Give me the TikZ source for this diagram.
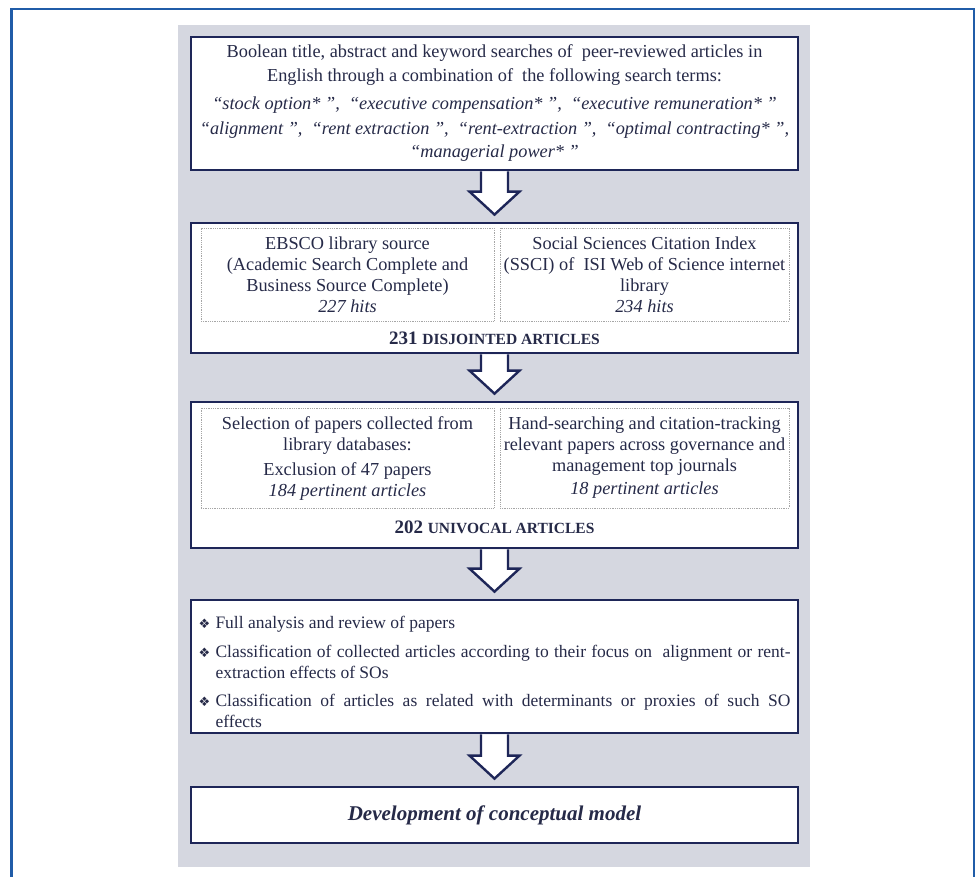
\documentclass[tikz,border=0pt]{standalone}
\usepackage{fontspec}
\setmainfont{Liberation Serif}
\newfontfamily\dingbat{DejaVu Sans}
\usetikzlibrary{calc}

\definecolor{navy}{RGB}{30,38,88}
\definecolor{frameblue}{RGB}{32,92,168}
\definecolor{panelgray}{RGB}{213,215,224}
\definecolor{ink}{RGB}{38,42,72}

\begin{document}
\begin{tikzpicture}[x=1pt, y=-1pt, font=\fontsize{18.3}{21}\selectfont,
        mainbox/.style={draw=navy, line width=2.8pt, fill=white, text=ink, minimum width=607pt, inner sep=0pt, align=center},
        subbox/.style={draw=gray!70, densely dotted, line width=0.8pt, fill=white, text=ink, inner sep=0pt, align=center},
        bigarrow/.style={draw=navy, line width=2.4pt, fill=white, line join=miter},
        tally/.style={text=ink, font=\fontsize{19}{21}\selectfont\bfseries}]

        \useasboundingbox (0,0) rectangle (976,876);

        % frame and panel
        \draw[frameblue, line width=2.5pt] (974,900) -- (974,9) -- (11.5,9) -- (11.5,900);
        \fill[panelgray] (178,25) rectangle (810,867);

        % search terms
        \node[mainbox, minimum height=133pt, font=\fontsize{18.3}{24}\selectfont] (search) at (494.5,103.5) {Boolean title, abstract and keyword searches of~ peer-reviewed articles in\\
            English through a combination of~ the following search terms:\\[4pt]
            \textit{“stock option* ”,~ “executive compensation* ”,~ “executive remuneration* ”}\\
            \textit{“alignment ”,~ “rent extraction ”,~ “rent-extraction ”,~ “optimal contracting* ”,}\\
            \textit{“managerial power* ”}};

        % sources
        \node[mainbox, minimum height=130pt] (sources) at (494.5,288) {};
        \node[subbox, minimum width=293pt, minimum height=93pt] (ebsco) at (347.5,274.5) {EBSCO library source\\(Academic Search Complete and\\Business Source Complete)\\\textit{227 hits}};
        \node[subbox, minimum width=289pt, minimum height=93pt] (ssci) at (644.5,274.5) {Social Sciences Citation Index\\(SSCI) of~ ISI Web of Science internet\\library\\\textit{234 hits}};
        \node[tally] (disjoint) at (494.5,338) {231 {\fontsize{15.5}{17}\selectfont DISJOINTED ARTICLES}};

        % selection
        \node[mainbox, minimum height=146pt] (selection) at (494.5,475) {};
        \node[subbox, minimum width=293pt, minimum height=100pt] (library) at (347.5,458) {Selection of papers collected from\\library databases:\\[4pt]Exclusion of 47 papers\\\textit{184 pertinent articles}};
        \node[subbox, minimum width=289pt, minimum height=100pt] (hand) at (644.5,458) {Hand-searching and citation-tracking\\relevant papers across governance and\\management top journals\\[2pt]\textit{18 pertinent articles}};
        \node[tally] (univocal) at (494.5,527) {202 {\fontsize{15.5}{17}\selectfont UNIVOCAL ARTICLES}};

        % analysis
        \node[mainbox, minimum height=133pt, text width=592pt, inner xsep=7.5pt, align=justify, font=\fontsize{17.5}{21}\selectfont] (analysis) at (494.5,666.5) {\setlength{\parskip}{7.5pt}%
            \hangindent=17pt\hangafter=1\noindent\rule{0pt}{24pt}\makebox[17pt][l]{\dingbat\fontsize{13}{13}\selectfont ❖}Full analysis and review of papers\par
            \hangindent=17pt\hangafter=1\noindent\makebox[17pt][l]{\dingbat\fontsize{13}{13}\selectfont ❖}Classification of collected articles according to their focus on~ alignment or rent-\linebreak extraction effects of SOs\par
            \hangindent=17pt\hangafter=1\noindent\makebox[17pt][l]{\dingbat\fontsize{13}{13}\selectfont ❖}Classification of articles as related with determinants or proxies of such SO\linebreak effects\par};

        % model
        \node[mainbox, minimum height=56pt, font=\fontsize{21}{25}\selectfont\bfseries\itshape] (model) at (494.5,815) {Development of conceptual model};

        % block arrows
        \foreach \a/\b in {search/sources, sources/selection, selection/analysis, analysis/model}
            \filldraw[bigarrow] ($(\a.south)+(-13.5,0)$) -- ($(\b.north)+(-13.5,-30)$) -- ($(\b.north)+(-25,-30)$) -- ($(\b.north)+(0,-7)$)
                -- ($(\b.north)+(25,-30)$) -- ($(\b.north)+(13.5,-30)$) -- ($(\a.south)+(13.5,0)$);

\end{tikzpicture}
\end{document}
